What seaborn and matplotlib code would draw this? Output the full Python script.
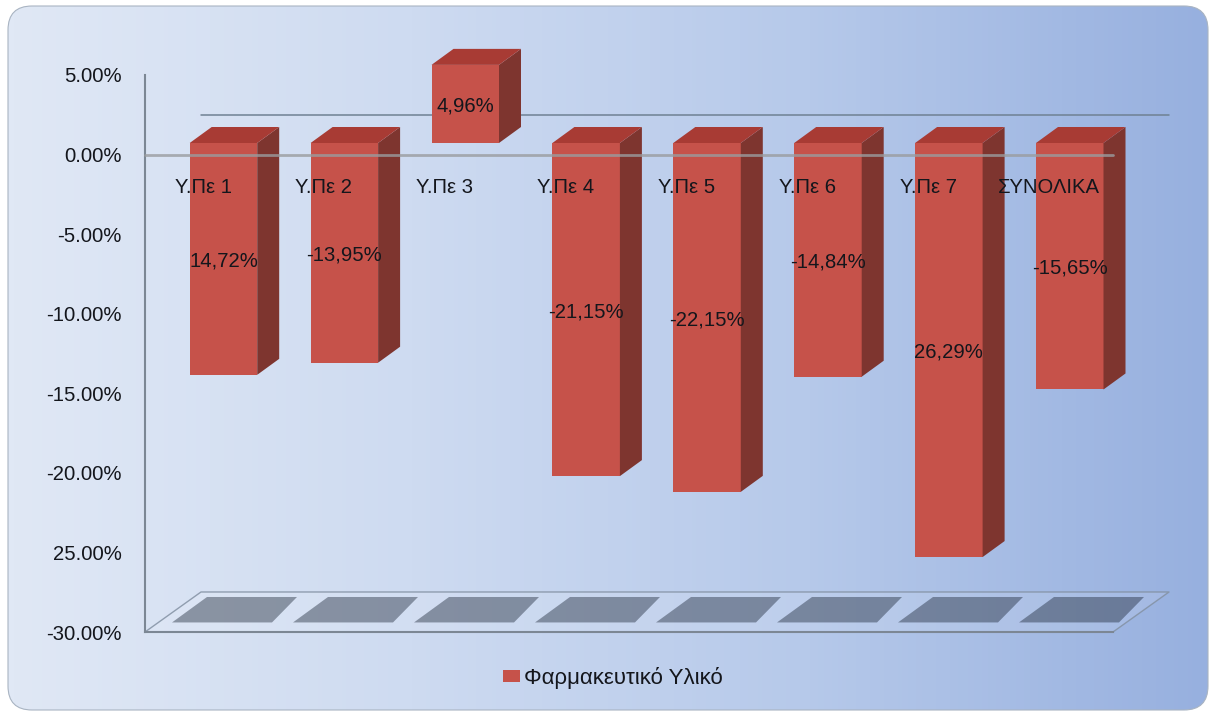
import numpy as np
import pandas as pd
import matplotlib
matplotlib.use("Agg")
import matplotlib.pyplot as plt
import seaborn as sns
from matplotlib.colors import LinearSegmentedColormap
from matplotlib.patches import FancyBboxPatch, Polygon, Patch

categories = ["Υ.Πε 1", "Υ.Πε 2", "Υ.Πε 3", "Υ.Πε 4", "Υ.Πε 5", "Υ.Πε 6", "Υ.Πε 7", "ΣΥΝΟΛΙΚΑ"]
values = [-14.72, -13.95, 4.96, -21.15, -22.15, -14.84, -26.29, -15.65]
value_labels = ["14,72%", "-13,95%", "4,96%", "-21,15%", "-22,15%", "-14,84%", "26,29%", "-15,65%"]
y_ticks = [5, 0, -5, -10, -15, -20, -25, -30]
y_tick_labels = ["5.00%", "0.00%", "-5.00%", "-10.00%", "-15.00%", "-20.00%", "25.00%", "-30.00%"]
series_name = "Φαρμακευτικό Υλικό"

W, H = 1217, 712
sns.set_theme(style="white")
plt.rcParams["font.family"] = ["Liberation Sans", "DejaVu Sans"]
FS = 14.6
TXT = "#14161c"

fig = plt.figure(figsize=(W / 100, H / 100), dpi=100, facecolor="white")

def px_axes(l, t, r, b, **kw):
    return fig.add_axes([l / W, 1 - b / H, (r - l) / W, (b - t) / H], **kw)

# background panel
bg = px_axes(0, 0, W, H, zorder=0)
bg.axis("off")
cmap = LinearSegmentedColormap.from_list("panel", ["#e0e8f5", "#cedbf1", "#b6c9ea", "#97b0df"])
im = bg.imshow(np.linspace(0, 1, 600)[None, :], extent=(8, 1208, 710, 6), aspect="auto", cmap=cmap)
bg.set_xlim(0, W); bg.set_ylim(H, 0)
panel = FancyBboxPatch((28, 26), 1160, 664, boxstyle="round,pad=20,rounding_size=24",
                       fc="none", ec="#a9b4c2", lw=0.8, transform=bg.transData)
bg.add_patch(panel)
im.set_clip_path(panel)

# value axis and chart floor (0..8 = category slots)
ax_t = px_axes(145, 75, 1113, 632, zorder=1)
ax_t.patch.set_alpha(0)
ax_t.set_xlim(0, 8); ax_t.set_ylim(-30, 5)
ax_t.set_xticks([])
ax_t.set_yticks(y_ticks)
ax_t.set_yticklabels(y_tick_labels, fontsize=FS, color=TXT)
ax_t.tick_params(axis="y", length=0, pad=17)
for s in ["top", "right"]:
    ax_t.spines[s].set_visible(False)
for s in ["left", "bottom"]:
    ax_t.spines[s].set_color("#7c8794"); ax_t.spines[s].set_linewidth(1.5)

DX, DY = 56 / 121, 40 / 15.91
n = len(categories)
ax_t.add_patch(Polygon([(0, -30), (n, -30), (n + DX, -30 + DY), (DX, -30 + DY)], closed=True,
                       fc="white", alpha=0.10, ec="none", clip_on=False))
ax_t.plot([0, DX, n + DX, n], [-30, -30 + DY, -30 + DY, -30], color="#8391a3", lw=1.0,
          clip_on=False, alpha=0.85)
ax_t.plot([DX, n + DX], [DY, DY], color="#6f8193", lw=1.1, clip_on=False)
for i in range(n):
    b0, b1 = -30 + 0.6, -30 + 2.2
    x0 = i + 27 / 121
    x1 = i + 127 / 121
    s = 35 / 121
    ax_t.add_patch(Polygon([(x0, b0), (x1, b0), (x1 + s - 10 / 121, b1), (x0 + s, b1)], closed=True,
                           fc="#101a2a", alpha=0.40, ec="none", clip_on=False))

# bars, on a full-figure axes with their own scale
SLOT, ZERO, SCALE = 120.9, 143.0, 15.75
ax = px_axes(0, 0, W, H, zorder=2)
ax.patch.set_alpha(0)
df = pd.DataFrame({"cat": categories, "val": values})
sns.barplot(data=df, x="cat", y="val", ax=ax, color="#c6524a", saturation=1, width=67.5 / SLOT,
            edgecolor="none", order=categories)
ax.set_xlim(-0.5 - 163 / SLOT, -0.5 + (W - 163) / SLOT)
ax.set_ylim((ZERO - H) / SCALE, ZERO / SCALE)
ax.axis("off")

hw = 67.5 / SLOT / 2
dx, dy = 22 / SLOT, 16 / SCALE
for i, v in enumerate(values):
    top, bot = max(v, 0), min(v, 0)
    ax.add_patch(Polygon([(i + hw, bot), (i + hw + dx, bot + dy), (i + hw + dx, top + dy), (i + hw, top)],
                         closed=True, fc="#7e352f", ec="none", zorder=3))
    ax.add_patch(Polygon([(i - hw, top), (i + hw, top), (i + hw + dx, top + dy), (i - hw + dx, top + dy)],
                         closed=True, fc="#a83b34", ec="none", zorder=3))

# front zero line, over the bars
ax.plot([0, n], [0, 0], transform=ax_t.transData, color="#9a9c9f", alpha=0.8, lw=2.0, zorder=4, clip_on=False)

# data labels
for t in ax.bar_label(ax.containers[0], labels=value_labels, label_type="center", fontsize=FS,
                      color=TXT, zorder=6):
    t.xyann = (t.xyann[0], t.xyann[1] - 1.5)

# category labels, next to the zero line
for i, c in enumerate(categories):
    ax.text(i - 18 / SLOT - 0.02, (ZERO - 188) / SCALE, c, ha="center", va="center",
            fontsize=FS, color=TXT, zorder=7)

# legend
ax.legend(handles=[Patch(fc="#c6524a", ec="none", label=series_name)], loc="center",
          bbox_to_anchor=(613 / W, 1 - 678 / H), bbox_transform=fig.transFigure, frameon=False,
          fontsize=16, handlelength=0.75, handleheight=0.45, handletextpad=0.2, labelcolor=TXT)

fig.savefig("out.png", dpi=100)
